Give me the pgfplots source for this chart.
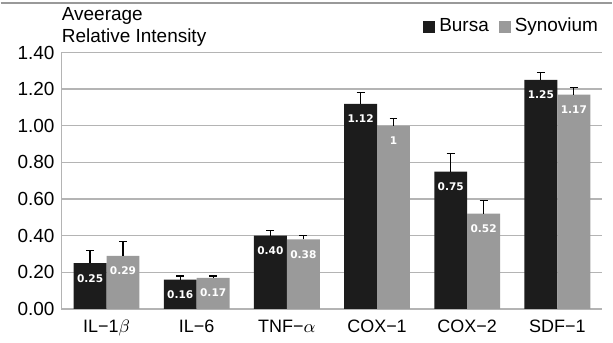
\documentclass[border=0pt]{standalone}
\usepackage{pgfplots}
\pgfplotsset{compat=1.18}
\usepackage{pgfplotstable}
\usepackage{fontspec}
\setmainfont{Liberation Sans}
\newfontfamily\valfont{DejaVu Sans}
\definecolor{bursa}{HTML}{1C1C1C}
\definecolor{syno}{HTML}{9A9A9A}
\definecolor{gridc}{HTML}{B4B4B4}
\pgfplotstableread{
x y e l
0 0.25 0.07 0.25
1 0.16 0.02 0.16
2 0.40 0.03 0.40
3 1.12 0.06 1.12
4 0.75 0.10 0.75
5 1.25 0.04 1.25
}\bursa
\pgfplotstableread{
x y e l
0 0.29 0.08 0.29
1 0.17 0.01 0.17
2 0.38 0.02 0.38
3 1.00 0.04 1
4 0.52 0.07 0.52
5 1.17 0.04 1.17
}\syno
\begin{document}
\begin{tikzpicture}
\begin{axis}[
  name=ax,
  scale only axis,
  width=271pt, height=128.5pt,
  ybar=0pt, bar width=16.5pt,
  xmin=-0.5, xmax=5.5,
  ymin=0, ymax=1.4,
  ytick={0,0.2,...,1.41},
  xtick=data,
  xticklabels={IL−1$\beta$, IL−6, TNF−$\alpha$, COX−1, COX−2, SDF−1},
  x tick label style={font=\fontsize{9}{10}\selectfont, yshift=-2pt},
  y tick label style={font=\fontsize{9.5}{11}\selectfont},
  /pgf/number format/.cd, fixed, fixed zerofill, precision=2, assume math mode=true,
  /pgfplots/.cd,
  axis lines*=left,
  axis line style={gridc, line width=0.7pt},
  ymajorgrids,
  major grid style={gridc, line width=0.7pt},
  major tick length=0pt,
  point meta=explicit symbolic,
  nodes near coords,
  nodes near coords style={white, font=\valfont\bfseries\fontsize{5.3}{6}\selectfont, anchor=center, yshift=-7.5pt},
  legend columns=2,
  legend style={at={(1,1)}, anchor=east, yshift=13pt, draw=none, fill=none, inner sep=0pt,
    font=\fontsize{9.5}{11}\selectfont, /tikz/every even column/.append style={column sep=3pt}},
  legend image code/.code={\fill[#1] (0pt,-3pt) rectangle (6pt,3pt);},
  clip=false,
]
\addplot[fill=bursa, draw=none,
  error bars/.cd, y dir=plus, y explicit,
  error bar style={black, line width=0.6pt},
  error mark options={black, line width=0.6pt, mark size=2pt, rotate=90}]
  table[x=x, y=y, y error=e, meta=l] {\bursa};
\addplot[fill=syno, draw=none,
  error bars/.cd, y dir=plus, y explicit,
  error bar style={black, line width=0.6pt},
  error mark options={black, line width=0.6pt, mark size=2pt, rotate=90}]
  table[x=x, y=y, y error=e, meta=l] {\syno};
\legend{Bursa, Synovium}
\node[anchor=base west, inner sep=0pt, font=\fontsize{9.5}{11}\selectfont] at ([yshift=4.8pt]rel axis cs:0,1) {Relative Intensity};
\node[anchor=base west, inner sep=0pt, font=\fontsize{9.5}{11}\selectfont] at ([yshift=15.8pt]rel axis cs:0,1) {Aveerage};
\end{axis}
\draw[gray!80, line width=0.6pt] ([xshift=-30.5pt, yshift=24.8pt]ax.north west) -- ([xshift=5pt, yshift=24.8pt]ax.north east);
\path ([xshift=-30.5pt, yshift=-14.75pt]ax.south west) rectangle ([xshift=5pt, yshift=26.3pt]ax.north east);
\end{tikzpicture}
\end{document}
